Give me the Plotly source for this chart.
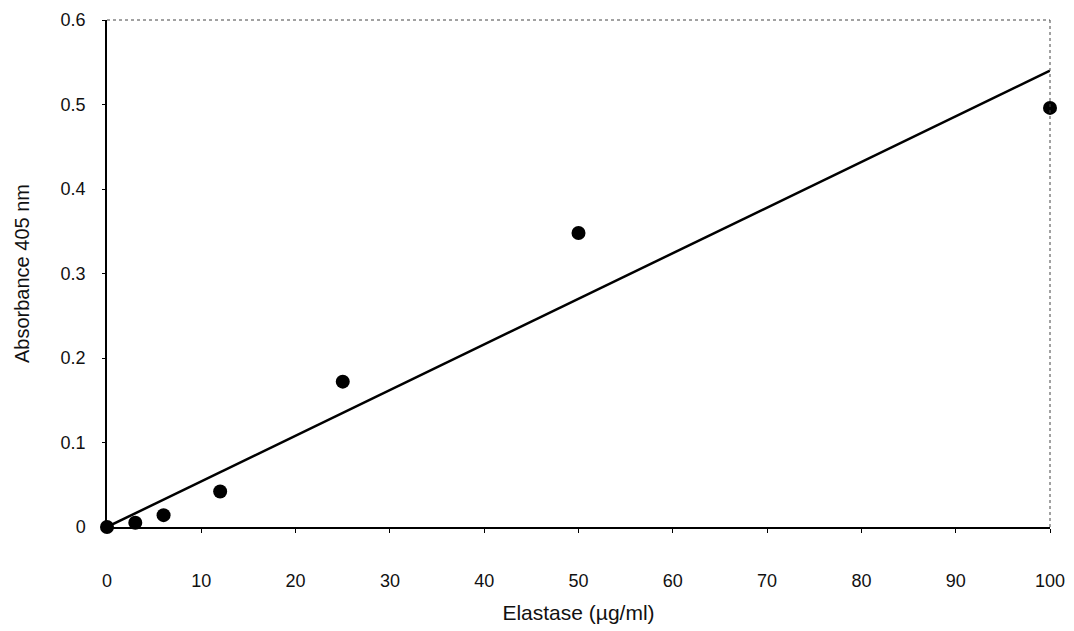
import numpy as np
import plotly.graph_objects as go

# Elastase standard curve
elastase_ug_ml = [0, 3, 6, 12, 25, 50, 100]
absorbance_405 = [0.0, 0.005, 0.014, 0.042, 0.172, 0.348, 0.496]

x_ticks = [0, 10, 20, 30, 40, 50, 60, 70, 80, 90, 100]
y_ticks = [0, 0.1, 0.2, 0.3, 0.4, 0.5, 0.6]
y_tick_text = ["0", "0.1", "0.2", "0.3", "0.4", "0.5", "0.6"]

# Linear trendline forced through the origin
x_arr = np.array(elastase_ug_ml, dtype=float)
y_arr = np.array(absorbance_405, dtype=float)
slope = float((x_arr * y_arr).sum() / (x_arr * x_arr).sum())
fit_x = [0, 100]
fit_y = [slope * v for v in fit_x]

family = "Liberation Sans, Arial, sans-serif"
tick_font = dict(family=family, size=18, color="#111")

fig = go.Figure()
fig.add_trace(go.Scatter(
    x=fit_x, y=fit_y, mode="lines",
    line=dict(color="black", width=2.5),
    cliponaxis=False, showlegend=False, hoverinfo="skip",
))
fig.add_trace(go.Scatter(
    x=elastase_ug_ml, y=absorbance_405, mode="markers",
    marker=dict(color="black", size=14),
    cliponaxis=False, showlegend=False,
))

# dotted frame on top and right
fig.add_shape(type="line", xref="paper", yref="paper", x0=0, x1=1, y0=1, y1=1,
              line=dict(color="#444", width=1, dash="dot"))
fig.add_shape(type="line", xref="paper", yref="paper", x0=1, x1=1, y0=0, y1=1,
              line=dict(color="#444", width=1, dash="dot"))

fig.update_layout(
    width=1074, height=631,
    margin=dict(l=107, r=24, t=20, b=104),
    paper_bgcolor="white", plot_bgcolor="white",
    font=tick_font,
    xaxis=dict(
        range=[0, 100], tickvals=x_ticks, showgrid=False, zeroline=False,
        automargin=False,
        showline=True, linecolor="black", linewidth=1.5,
        ticks="outside", ticklen=4, tickcolor="black", ticklabelstandoff=33,
        tickfont=tick_font,
        title=dict(text="Elastase (µg/ml)", font=dict(family=family, size=21, color="#111"),
                   standoff=15),
    ),
    yaxis=dict(
        range=[0, 0.6], tickvals=y_ticks, ticktext=y_tick_text,
        showgrid=False, zeroline=False,
        automargin=False,
        showline=True, linecolor="black", linewidth=1.5,
        ticks="outside", ticklen=3, tickcolor="black", ticklabelstandoff=13,
        tickfont=tick_font,
        title=dict(text="Absorbance 405 nm", font=dict(family=family, size=20, color="#111"),
                   standoff=26),
    ),
)

fig.write_html("out.html")
